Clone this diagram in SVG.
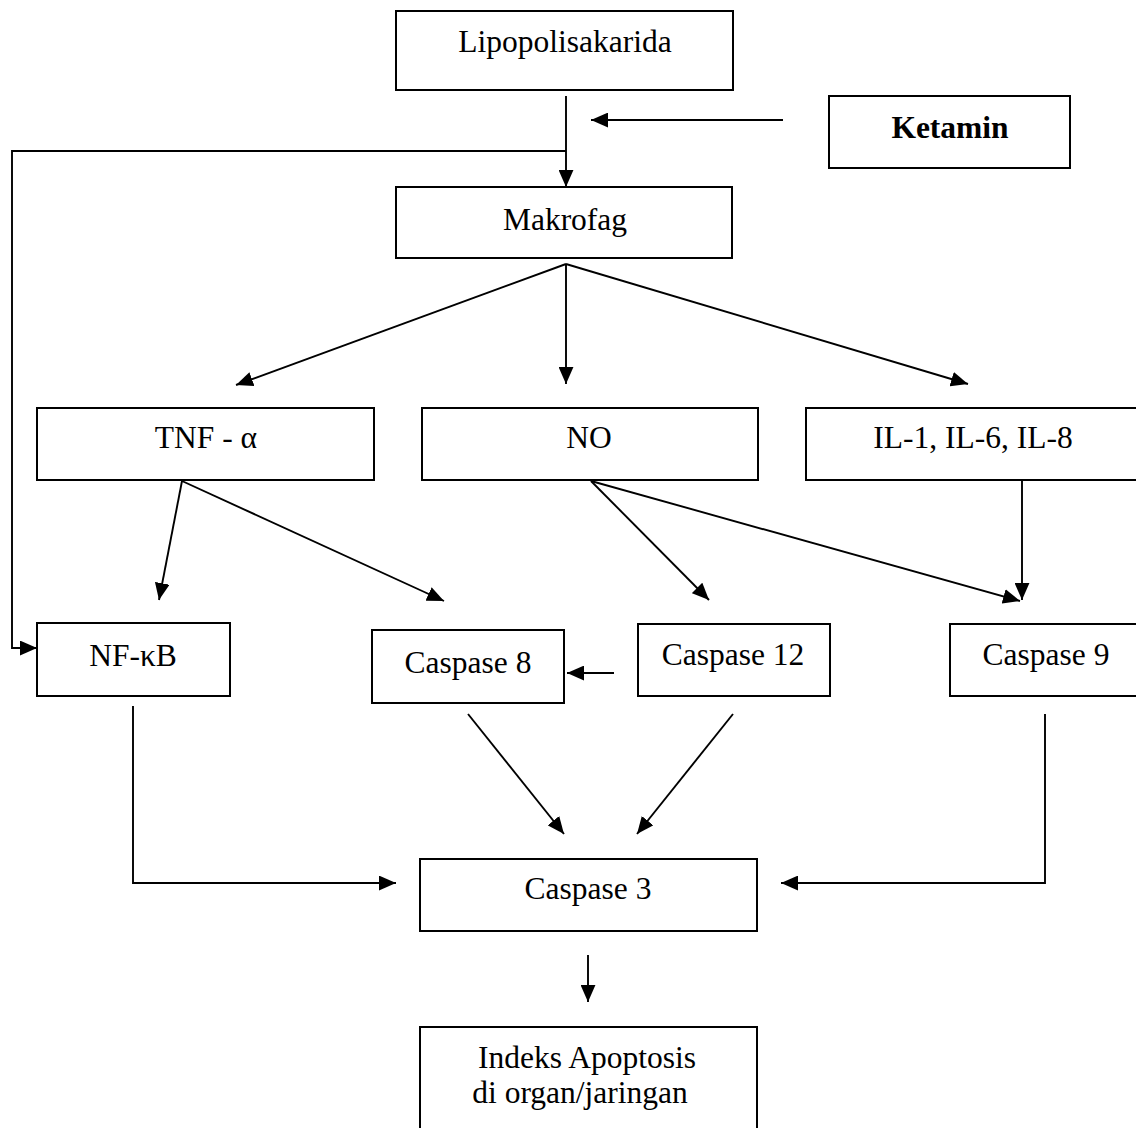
<svg xmlns="http://www.w3.org/2000/svg" width="1136" height="1128" viewBox="0 0 1136 1128">
<style>
.box{fill:#fff;stroke:#000;stroke-width:2}
.lbl{font-family:"Liberation Serif","Times New Roman",serif;font-size:31.5px;fill:#000;text-anchor:middle}
.bold{font-weight:bold}
.con{fill:none;stroke:#000;stroke-width:1.9}
</style>
<defs>
<marker id="ah" viewBox="0 0 16 14" refX="16" refY="7" markerWidth="17" markerHeight="15" markerUnits="userSpaceOnUse" orient="auto">
<path d="M0,0 L16,7 L0,14 z" fill="#000"/>
</marker>
</defs>
<rect width="1136" height="1128" fill="#fff"/>
<g id="connectors">
<line class="con" x1="566" y1="96" x2="566" y2="187" marker-end="url(#ah)"/>
<line class="con" x1="783" y1="120" x2="591" y2="120" marker-end="url(#ah)"/>
<polyline class="con" points="566,151 12,151 12,648 37,648" marker-end="url(#ah)"/>
<line class="con" x1="566" y1="264" x2="236" y2="385" marker-end="url(#ah)"/>
<line class="con" x1="566" y1="264" x2="566" y2="384" marker-end="url(#ah)"/>
<line class="con" x1="566" y1="264" x2="968" y2="384" marker-end="url(#ah)"/>
<line class="con" x1="182" y1="481" x2="159" y2="600" marker-end="url(#ah)"/>
<line class="con" x1="182" y1="481" x2="444" y2="601" marker-end="url(#ah)"/>
<line class="con" x1="591" y1="481" x2="709" y2="600" marker-end="url(#ah)"/>
<line class="con" x1="591" y1="481" x2="1020" y2="601" marker-end="url(#ah)"/>
<line class="con" x1="1022" y1="481" x2="1022" y2="600" marker-end="url(#ah)"/>
<line class="con" x1="614" y1="673" x2="567" y2="673" marker-end="url(#ah)"/>
<line class="con" x1="468" y1="714" x2="564" y2="834" marker-end="url(#ah)"/>
<line class="con" x1="733" y1="714" x2="637" y2="834" marker-end="url(#ah)"/>
<polyline class="con" points="133,706 133,883 396,883" marker-end="url(#ah)"/>
<polyline class="con" points="1045,714 1045,883 781,883" marker-end="url(#ah)"/>
<line class="con" x1="588" y1="955" x2="588" y2="1002" marker-end="url(#ah)"/>
</g>
<g id="lipopolisakarida">
<rect class="box" x="396" y="11" width="337" height="79"/>
<text class="lbl" x="565" y="52">Lipopolisakarida</text>
</g>
<g id="ketamin">
<rect class="box" x="829" y="96" width="241" height="72"/>
<text class="lbl bold" x="950" y="138">Ketamin</text>
</g>
<g id="makrofag">
<rect class="box" x="396" y="187" width="336" height="71"/>
<text class="lbl" x="565" y="230">Makrofag</text>
</g>
<g id="tnf">
<rect class="box" x="37" y="408" width="337" height="72"/>
<text class="lbl" x="206" y="448">TNF - α</text>
</g>
<g id="no">
<rect class="box" x="422" y="408" width="336" height="72"/>
<text class="lbl" x="589" y="448">NO</text>
</g>
<g id="il">
<rect class="box" x="806" y="408" width="340" height="72"/>
<text class="lbl" x="973" y="448">IL-1, IL-6, IL-8</text>
</g>
<g id="nfkb">
<rect class="box" x="37" y="623" width="193" height="73"/>
<text class="lbl" x="133" y="666">NF-κB</text>
</g>
<g id="caspase8">
<rect class="box" x="372" y="630" width="192" height="73"/>
<text class="lbl" x="468" y="673">Caspase 8</text>
</g>
<g id="caspase12">
<rect class="box" x="638" y="624" width="192" height="72"/>
<text class="lbl" x="733" y="665">Caspase 12</text>
</g>
<g id="caspase9">
<rect class="box" x="950" y="624" width="196" height="72"/>
<text class="lbl" x="1046" y="665">Caspase 9</text>
</g>
<g id="caspase3">
<rect class="box" x="420" y="859" width="337" height="72"/>
<text class="lbl" x="588" y="899">Caspase 3</text>
</g>
<g id="indeks">
<rect class="box" x="420" y="1027" width="337" height="120"/>
<text class="lbl" x="587" y="1068">Indeks Apoptosis</text>
<text class="lbl" x="580" y="1103">di organ/jaringan</text>
</g>
</svg>
